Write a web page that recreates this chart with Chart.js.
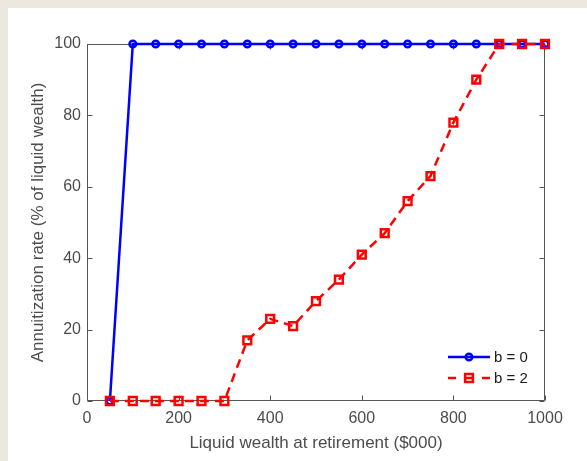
<!DOCTYPE html>
<html>
<head>
<meta charset="utf-8">
<script src="https://cdn.jsdelivr.net/npm/chart.js@4.4.1/dist/chart.umd.min.js"></script>
<style>
  html, body { margin: 0; padding: 0; background: #ece8df; }
  #panel { position: absolute; left: 8px; top: 8px; right: 0; bottom: 0; background: #fff; }
  #chart { position: absolute; left: 0; top: 0; }
</style>
</head>
<body>
<div id="panel"></div>
<canvas id="chart" width="587" height="461"></canvas>
<script>
// liquid wealth at retirement ($000)
const wealth = [50, 100, 150, 200, 250, 300, 350, 400, 450, 500,
                550, 600, 650, 700, 750, 800, 850, 900, 950, 1000]
// annuitization rate (% of liquid wealth)
const rateB0 = [0, 100, 100, 100, 100, 100, 100, 100, 100, 100,
                100, 100, 100, 100, 100, 100, 100, 100, 100, 100]
const rateB2 = [0, 0, 0, 0, 0, 0, 17, 23, 21, 28,
                34, 41, 47, 56, 63, 78, 90, 100, 100, 100]
const seriesLabels = ['b = 0', 'b = 2']
const xTicks = [0, 200, 400, 600, 800, 1000]
const yTicks = [0, 20, 40, 60, 80, 100]

const axisColor = '#555555'
const textColor = '#4d4d4d'
const fontFamily = '"Liberation Sans", Arial, Helvetica, sans-serif'

const toPoints = (ys) => wealth.map((x, i) => ({ x: x, y: ys[i] }))

// matlab-ish box with inward ticks on all four sides
const frame = {
  id: 'frame',
  beforeDatasetsDraw(chart) {
    const { ctx, chartArea: a, scales } = chart
    const len = 5
    ctx.save()
    ctx.strokeStyle = axisColor
    ctx.lineWidth = 1
    ctx.beginPath()
    const L = Math.round(a.left) + 0.5
    const R = Math.round(a.right) - 0.5
    const T = Math.round(a.top) + 0.5
    const B = Math.round(a.bottom) - 0.5
    ctx.rect(L, T, R - L, B - T)
    xTicks.forEach((v) => {
      const px = Math.round(scales.x.getPixelForValue(v)) + 0.5
      ctx.moveTo(px, B); ctx.lineTo(px, B - len)
      ctx.moveTo(px, T); ctx.lineTo(px, T + len)
    })
    yTicks.forEach((v) => {
      const py = Math.round(scales.y.getPixelForValue(v)) + 0.5
      ctx.moveTo(L, py); ctx.lineTo(L + len, py)
      ctx.moveTo(R, py); ctx.lineTo(R - len, py)
    })
    ctx.stroke()
    ctx.restore()
  },
  afterDraw(chart) {
    // legend, bottom right inside the axes, no box
    const { ctx, chartArea: a } = chart
    const order = [0, 1]
    ctx.save()
    order.forEach((i, row) => {
      const ds = chart.data.datasets[i]
      const y = a.bottom - 44 + row * 21
      const x0 = a.right - 97
      const x1 = a.right - 55
      const cx = (x0 + x1) / 2
      ctx.strokeStyle = ds.borderColor
      ctx.lineWidth = ds.borderWidth
      ctx.setLineDash(ds.borderDash ? [8, 9] : [])
      ctx.beginPath()
      ctx.moveTo(x0, y); ctx.lineTo(x1, y)
      ctx.stroke()
      ctx.setLineDash([])
      ctx.beginPath()
      if (ds.pointStyle === 'rect') {
        const s = ds.pointRadius * Math.SQRT1_2
        ctx.rect(cx - s, y - s, 2 * s, 2 * s)
      } else {
        ctx.arc(cx, y, ds.pointRadius, 0, Math.PI * 2)
      }
      ctx.stroke()
      ctx.fillStyle = '#1a1a1a'
      ctx.font = '15px ' + fontFamily
      ctx.textAlign = 'left'
      ctx.textBaseline = 'middle'
      ctx.fillText(ds.label, x1 + 4, y + 1)
    })
    ctx.restore()
  },
}

new Chart(document.getElementById('chart'), {
  type: 'line',
  data: {
    datasets: [
      {
        label: seriesLabels[0],
        data: toPoints(rateB0),
        borderColor: '#0000ff',
        borderWidth: 2.5,
        pointStyle: 'circle',
        pointRadius: 3.3,
        pointBorderWidth: 2.5,
        pointBorderColor: '#0000ff',
        pointBackgroundColor: 'transparent',
        tension: 0,
        clip: false,
        order: 1,
      },
      {
        label: seriesLabels[1],
        data: toPoints(rateB2),
        borderColor: '#ff0000',
        borderWidth: 2.5,
        borderDash: [9, 6],
        pointStyle: 'rect',
        pointRadius: 5.5,
        pointBorderWidth: 2.5,
        pointBorderColor: '#ff0000',
        pointBackgroundColor: 'transparent',
        tension: 0,
        clip: false,
        order: 0,
      },
    ],
  },
  options: {
    responsive: false,
    animation: false,
    events: [],
    layout: { padding: { left: 0, top: 44, right: 42, bottom: 0 } },
    plugins: { legend: { display: false }, tooltip: { enabled: false } },
    scales: {
      x: {
        type: 'linear',
        min: 0,
        max: 1000,
        afterBuildTicks: (s) => { s.ticks = xTicks.map((v) => ({ value: v })) },
        afterFit: (s) => { s.height = 60 },
        grid: { display: false, drawTicks: false },
        border: { display: false },
        ticks: {
          color: textColor,
          padding: 8,
          maxRotation: 0,
          callback: (v) => String(v),
          font: { family: fontFamily, size: 16 },
        },
        title: {
          display: true,
          text: 'Liquid wealth at retirement ($000)',
          color: textColor,
          padding: { top: 0, bottom: 7 },
          font: { family: fontFamily, size: 17 },
        },
      },
      y: {
        min: 0,
        max: 100,
        afterBuildTicks: (s) => { s.ticks = yTicks.map((v) => ({ value: v })) },
        afterFit: (s) => { s.width = 87 },
        grid: { display: false, drawTicks: false },
        border: { display: false },
        ticks: {
          color: textColor,
          padding: 6,
          callback: (v) => String(v),
          font: { family: fontFamily, size: 16 },
        },
        title: {
          display: true,
          text: 'Annuitization rate (% of liquid wealth)',
          color: textColor,
          padding: { top: 28, bottom: 0 },
          font: { family: fontFamily, size: 17 },
        },
      },
    },
  },
  plugins: [frame],
})
</script>
</body>
</html>
